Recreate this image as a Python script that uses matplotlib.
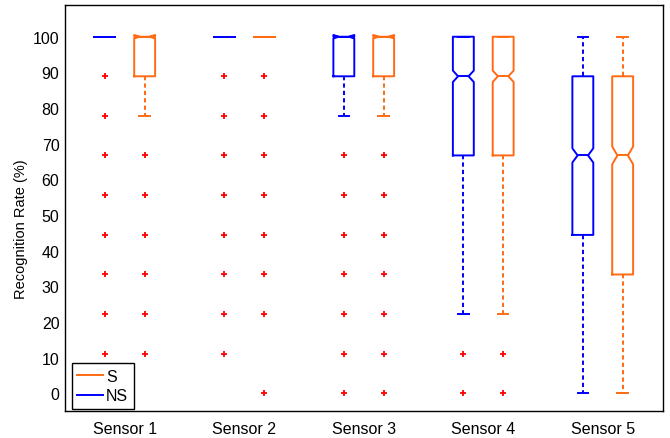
import matplotlib
matplotlib.use('Agg')
import matplotlib.pyplot as plt
from matplotlib.lines import Line2D

plt.rcParams['font.family'] = ['Liberation Sans', 'DejaVu Sans']

sensors = ['Sensor 1', 'Sensor 2', 'Sensor 3', 'Sensor 4', 'Sensor 5']

# NS series (blue), recognition rate in %
ns_med = [100, 100, 100, 88.9, 66.7]
ns_q1 = [100, 100, 88.9, 66.7, 44.4]
ns_q3 = [100, 100, 100, 100, 88.9]
ns_whislo = [100, 100, 77.8, 22.2, 0]
ns_whishi = [100, 100, 100, 100, 100]
ns_cilo = [100, 100, 99.5, 87.3, 64.7]
ns_cihi = [100, 100, 100.5, 90.5, 68.7]
ns_fliers = [[88.9, 77.8, 66.7, 55.6, 44.4, 33.3, 22.2, 11.1],
             [88.9, 77.8, 66.7, 55.6, 44.4, 33.3, 22.2, 11.1],
             [66.7, 55.6, 44.4, 33.3, 22.2, 11.1, 0],
             [11.1, 0],
             []]

# S series (orange)
s_med = [100, 100, 100, 88.9, 66.7]
s_q1 = [88.9, 100, 88.9, 66.7, 33.3]
s_q3 = [100, 100, 100, 100, 88.9]
s_whislo = [77.8, 100, 77.8, 22.2, 0]
s_whishi = [100, 100, 100, 100, 100]
s_cilo = [99.5, 100, 99.5, 87.3, 64.2]
s_cihi = [100.5, 100, 100.5, 90.5, 69.2]
s_fliers = [[66.7, 55.6, 44.4, 33.3, 22.2, 11.1],
            [88.9, 77.8, 66.7, 55.6, 44.4, 33.3, 22.2, 0],
            [66.7, 55.6, 44.4, 33.3, 22.2, 11.1, 0],
            [11.1, 0],
            []]

yticks = [0, 10, 20, 30, 40, 50, 60, 70, 80, 90, 100]

BLUE = '#0000ff'
ORANGE = '#ff6a13'


def make_stats(med, q1, q3, lo, hi, cilo, cihi, fliers):
    out = []
    for i in range(len(med)):
        out.append(dict(med=med[i], q1=q1[i], q3=q3[i], whislo=lo[i],
                        whishi=hi[i], cilo=cilo[i], cihi=cihi[i],
                        fliers=fliers[i]))
    return out


def draw(ax, stats, positions, color):
    lw = 1.4
    ax.bxp(stats, positions=positions, widths=0.175, shownotches=True,
           boxprops=dict(color=color, lw=lw),
           whiskerprops=dict(color=color, lw=lw, linestyle=(0, (2.2, 1.6))),
           capprops=dict(color=color, lw=lw),
           medianprops=dict(color=color, lw=lw),
           flierprops=dict(marker='+', markeredgecolor='red', markersize=4.5,
                           markeredgewidth=1.3, linestyle='none'),
           manage_ticks=False)


fig = plt.figure(figsize=(6.7, 4.39), dpi=100)
ax = fig.add_axes([65 / 670, 1 - 412 / 439, 597.5 / 670, 406 / 439])

x = list(range(1, len(sensors) + 1))
draw(ax, make_stats(ns_med, ns_q1, ns_q3, ns_whislo, ns_whishi,
                    ns_cilo, ns_cihi, ns_fliers),
     [p - 1 / 6 for p in x], BLUE)
draw(ax, make_stats(s_med, s_q1, s_q3, s_whislo, s_whishi,
                    s_cilo, s_cihi, s_fliers),
     [p + 1 / 6 for p in x], ORANGE)

ax.set_xlim(0.5, 5.5)
ax.set_ylim(-5, 108.9)
ax.set_xticks(x)
ax.set_xticklabels(sensors, fontsize=11.5)
ax.set_yticks(yticks)
ax.set_yticklabels([str(t) for t in yticks], fontsize=11.5)
ax.tick_params(length=0)
ax.tick_params(axis='x', pad=7)
ax.tick_params(axis='y', pad=4)
ax.set_ylabel('Recognition Rate (%)', fontsize=10.5)
ax.yaxis.set_label_coords(-0.062, 0.45)
for sp in ax.spines.values():
    sp.set_linewidth(1.0)

handles = [Line2D([], [], color=ORANGE, lw=1.4),
           Line2D([], [], color=BLUE, lw=1.4)]
leg = ax.legend(handles, ['S', 'NS'], loc='lower left',
                bbox_to_anchor=(0.011, 0.005), borderaxespad=0,
                fancybox=False, framealpha=1, edgecolor='black',
                fontsize=11.5, handlelength=1.6, handletextpad=0.2,
                labelspacing=0.3, borderpad=0.35)
leg.get_frame().set_linewidth(1.0)

fig.savefig('out.png', dpi=100)
